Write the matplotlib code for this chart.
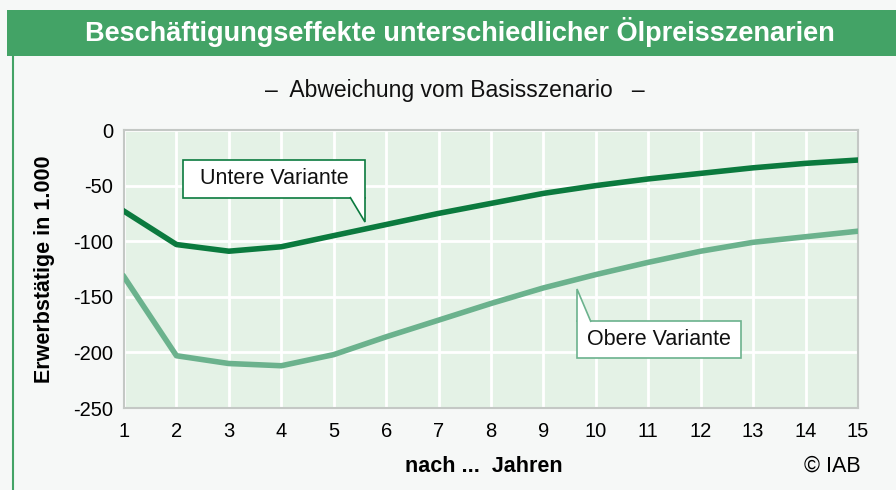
import matplotlib.pyplot as plt
import matplotlib.patches as patches

plt.rcParams['font.family'] = ['Liberation Sans', 'DejaVu Sans']
plt.rcParams['axes.unicode_minus'] = False

# Daten (Abweichung vom Basisszenario, Erwerbstätige in 1.000)
jahre = list(range(1, 16))
untere = [-73, -103, -109, -105, -95, -85, -75, -66, -57, -50, -44, -39, -34, -30, -27]
obere = [-132, -203, -210, -212, -202, -186, -171, -156, -142, -130, -119, -109, -101, -96, -91]
y_ticks = [0, -50, -100, -150, -200, -250]

c_dark = '#0b7a3e'
c_light = '#6bb28d'
c_bg = '#f6f8f7'

fig = plt.figure(figsize=(8.96, 4.9), dpi=100)
fig.patch.set_facecolor(c_bg)

# Titelbalken
fig.patches.append(patches.Rectangle((7 / 896, 1 - 56 / 490), 1, 46 / 490, transform=fig.transFigure,
                                     facecolor='#43a366', edgecolor='none'))
fig.lines.append(plt.Line2D([12.5 / 896, 12.5 / 896], [0, 1 - 56 / 490], transform=fig.transFigure,
                            color='#43a366', lw=1.5))
fig.text(460 / 896, 1 - 32 / 490, 'Beschäftigungseffekte unterschiedlicher Ölpreisszenarien',
         ha='center', va='center', color='white', fontsize=19.5, fontweight='bold')
fig.text(455 / 896, 1 - 90 / 490, '–  Abweichung vom Basisszenario   –', ha='center', va='center',
         fontsize=16.5, color='#111111')

ax = fig.add_axes([124 / 896, 82 / 490, 734 / 896, 278 / 490])
ax.set_facecolor('#e4f2e6')
ax.plot(jahre, untere, color=c_dark, lw=4, solid_joinstyle='round', zorder=3)
ax.plot(jahre, obere, color=c_light, lw=4, solid_joinstyle='round', zorder=3)

ax.set_xlim(1, 15)
ax.set_ylim(-250, 0)
ax.set_xticks(jahre)
ax.set_yticks(y_ticks)
ax.grid(True, color='white', lw=2)
ax.set_axisbelow(True)
ax.tick_params(length=0, labelsize=14.5)
ax.tick_params(axis='x', pad=10)
ax.tick_params(axis='y', pad=8)
for s in ax.spines.values():
    s.set_color('#c4c8c5')
    s.set_linewidth(1.5)

ax.set_ylabel('Erwerbstätige in 1.000', fontsize=15.5, fontweight='bold', labelpad=13)
fig.text(484 / 896, 1 - 466 / 490, 'nach ...  Jahren', ha='center', va='center',
         fontsize=15.5, fontweight='bold')
fig.text(832 / 896, 1 - 466 / 490, '© IAB', ha='center', va='center', fontsize=15.5)


def px(x, y):
    # Pixel der Vorlage -> Datenkoordinaten
    return 1 + (x - 124) / (734 / 14), -(y - 130) / (278 / 250)


def callout(text, color, x0, y0, x1, y1, tail):
    a = px(x0, y0)
    b = px(x1, y1)
    ax.add_patch(patches.Rectangle((a[0], b[1]), b[0] - a[0], a[1] - b[1], facecolor='white',
                                   edgecolor=color, lw=1.2, zorder=5))
    ax.add_patch(patches.Polygon([px(*p) for p in tail], closed=False, facecolor='white',
                                 edgecolor=color, lw=1.2, zorder=6))
    ax.text((a[0] + b[0]) / 2, (a[1] + b[1]) / 2, text, ha='center', va='center',
            fontsize=15.5, color='#111111', zorder=7)


callout('Untere Variante', c_dark, 183, 160, 365, 198,
        [(350, 197), (365, 222), (365, 197)])
callout('Obere Variante', c_light, 577, 321, 741, 358,
        [(577, 322), (577, 289), (591, 322)])

fig.savefig('out.png', dpi=100, facecolor=c_bg)
